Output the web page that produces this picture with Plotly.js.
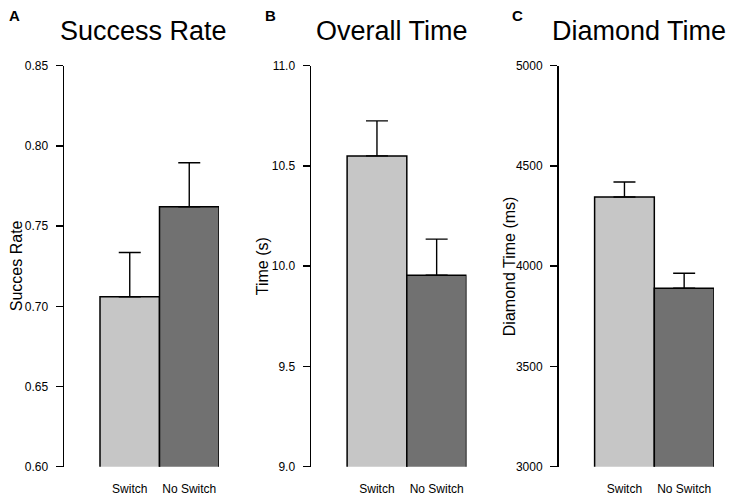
<!DOCTYPE html>
<html>
<head>
<meta charset="utf-8">
<script src="https://cdn.plot.ly/plotly-3.0.1.min.js"></script>
<style>html,body{margin:0;padding:0;background:#fff;}#chart{width:735px;height:499px;}</style>
</head>
<body>
<div id="chart"></div>
<script>
// Data
const categories = ["Switch", "No Switch"];
const panelLetters = ["A", "B", "C"];
const panelTitles = ["Success Rate", "Overall Time", "Diamond Time"];
const yTitles = ["Succes Rate", "Time (s)", "Diamond Time (ms)"];
const successRate = [0.706, 0.762];
const successRateErr = [0.0275, 0.0275];
const overallTime = [10.55, 9.955];
const overallTimeErr = [0.175, 0.18];
const diamondTime = [4345, 3890];
const diamondTimeErr = [75, 75];
const yRanges = [[0.60, 0.85], [9.0, 11.0], [3000, 5000]];
const yTickVals = [[0.60, 0.65, 0.70, 0.75, 0.80, 0.85], [9.0, 9.5, 10.0, 10.5, 11.0], [3000, 3500, 4000, 4500, 5000]];
const yTickText = [["0.60", "0.65", "0.70", "0.75", "0.80", "0.85"], ["9.0", "9.5", "10.0", "10.5", "11.0"], ["3000", "3500", "4000", "4500", "5000"]];

const values = [successRate, overallTime, diamondTime];
const errors = [successRateErr, overallTimeErr, diamondTimeErr];
const barColors = ["#c6c6c6", "#717171"];

const W = 735, H = 499;
const xDomPx = [[64, 219], [311, 466.5], [558.5, 714]];
const yDom = [1 - 466.7 / H, 1 - 65.7 / H];
const titleX = [143, 392, 639];
const letterX = [14, 270, 517];
const yTitleX = [16, 262, 509];

const traces = [];
const layout = {
  width: W, height: H,
  margin: {l: 0, r: 0, t: 0, b: 0},
  paper_bgcolor: "#fff", plot_bgcolor: "#fff",
  showlegend: false,
  bargap: 0,
  font: {family: "Liberation Sans, Arial, sans-serif", color: "#000"},
  annotations: []
};

for (let i = 0; i < 3; i++) {
  const xs = i === 0 ? "x" : "x" + (i + 1);
  const ys = i === 0 ? "y" : "y" + (i + 1);
  traces.push({
    type: "bar",
    x: [0, 1],
    y: values[i],
    xaxis: xs, yaxis: ys,
    width: 1,
    marker: {color: barColors, line: {color: "#000", width: 1.5}},
    error_y: {type: "data", symmetric: false, array: errors[i], arrayminus: [0, 0], color: "#000", thickness: 1.4, width: 11},
    hoverinfo: "skip"
  });
  const xk = i === 0 ? "xaxis" : "xaxis" + (i + 1);
  const yk = i === 0 ? "yaxis" : "yaxis" + (i + 1);
  layout[xk] = {
    domain: [xDomPx[i][0] / W, xDomPx[i][1] / W],
    anchor: ys,
    range: [-1.105, 1.5],
    tickvals: [0, 1], ticktext: categories,
    ticks: "", showline: false, showgrid: false, zeroline: false,
    tickfont: {size: 12, color: "#000"},
    ticklabelstandoff: 13,
    fixedrange: true
  };
  layout[yk] = {
    domain: yDom,
    anchor: xs,
    range: yRanges[i],
    tickvals: yTickVals[i], ticktext: yTickText[i],
    ticks: "outside", ticklen: 7, tickwidth: 1.5, tickcolor: "#000",
    showline: true, linecolor: "#000", linewidth: 1.5,
    showgrid: false, zeroline: false,
    tickfont: {size: 12, color: "#000"},
    ticklabelstandoff: 5,
    fixedrange: true
  };
  layout.annotations.push({
    text: yTitles[i], xref: "paper", yref: "paper",
    x: yTitleX[i] / W, y: (yDom[0] + yDom[1]) / 2, xanchor: "center", yanchor: "middle",
    textangle: -90, showarrow: false, font: {size: 16, color: "#000"}
  });
  layout.annotations.push({
    text: panelTitles[i], xref: "paper", yref: "paper",
    x: titleX[i] / W, y: 1 - 31 / H, xanchor: "center", yanchor: "middle",
    showarrow: false, font: {size: 27, color: "#000"}
  });
  layout.annotations.push({
    text: "<b>" + panelLetters[i] + "</b>", xref: "paper", yref: "paper",
    x: letterX[i] / W, y: 1 - 15 / H, xanchor: "center", yanchor: "middle",
    showarrow: false, font: {size: 15, color: "#000"}
  });
}

Plotly.newPlot("chart", traces, layout, {displayModeBar: false, staticPlot: true});
</script>
</body>
</html>
